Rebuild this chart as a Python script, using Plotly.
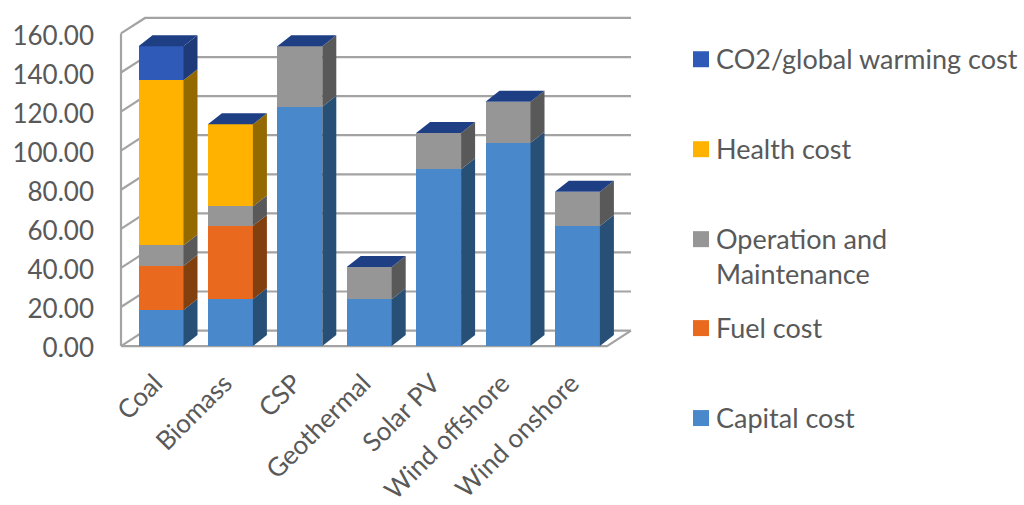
import plotly.graph_objects as go

# Levelised cost by technology, stacked from the bottom up
categories = ["Coal", "Biomass", "CSP", "Geothermal", "Solar PV", "Wind offshore", "Wind onshore"]
capital_cost = [18.5, 24.0, 122.5, 24.0, 90.5, 104.0, 61.5]
fuel_cost = [22.5, 37.5, 0, 0, 0, 0, 0]
operation_maintenance = [10.5, 10.0, 31.0, 16.5, 18.5, 21.0, 17.5]
health_cost = [84.5, 42.0, 0, 0, 0, 0, 0]
co2_cost = [17.5, 0, 0, 0, 0, 0, 0]

series_names = ["Capital cost", "Fuel cost", "Operation and<br>Maintenance", "Health cost", "CO2/global warming cost"]
series_values = [capital_cost, fuel_cost, operation_maintenance, health_cost, co2_cost]
front_colors = ["#4a88cc", "#e96a1f", "#969696", "#ffb300", "#2f5ab8"]
side_colors = ["#285077", "#82400f", "#595959", "#936900", "#1f3a78"]
top_color = "#1f3f85"
grid_color = "#a3a3a3"
text_color = "#595959"
font_family = "Lato, sans-serif"

y_ticks = [0, 20, 40, 60, 80, 100, 120, 140, 160]

# Plot frame and scales, in pixels
WIDTH, HEIGHT = 1024, 505
PX_PER_CAT = 69.4
PX_PER_UNIT = 1.955
FIRST_BAR_PX = 161
ZERO_PX = 346
PLOT_L, PLOT_R = 112, 640
Y_MIN, Y_MAX = -2, 172
x_range = [(PLOT_L - FIRST_BAR_PX) / PX_PER_CAT, (PLOT_R - FIRST_BAR_PX) / PX_PER_CAT]
m_top = ZERO_PX - Y_MAX * PX_PER_UNIT
m_bottom = HEIGHT - (ZERO_PX - Y_MIN * PX_PER_UNIT)

# Box depth and wall depth, in axis units
BAR_W = 45 / PX_PER_CAT
BAR_DX = 14 / PX_PER_CAT
BAR_DY = 11 / PX_PER_UNIT
WALL_DX = 24 / PX_PER_CAT
WALL_DY = 15.5 / PX_PER_UNIT
FRONT_L = (121 - FIRST_BAR_PX) / PX_PER_CAT
FRONT_R = (607 - FIRST_BAR_PX) / PX_PER_CAT

fig = go.Figure()

# Back wall and floor go on the lower y axis, so the bars cover them
wall_x, wall_y = [], []
for t in y_ticks:
    wall_x += [FRONT_L, FRONT_L + WALL_DX, FRONT_R + WALL_DX, None]
    wall_y += [t, t + WALL_DY, t + WALL_DY, None]
wall_x += [FRONT_L, FRONT_L, None, FRONT_L, FRONT_R, FRONT_R + WALL_DX]
wall_y += [y_ticks[0], y_ticks[-1], None, y_ticks[0], y_ticks[0], y_ticks[0] + WALL_DY]
fig.add_trace(go.Scatter(x=wall_x, y=wall_y, mode="lines", line=dict(color=grid_color, width=2.2),
                         hoverinfo="skip", showlegend=False, yaxis="y"))

positions = list(range(len(categories)))

# Front faces
for name, values, color in zip(series_names, series_values, front_colors):
    fig.add_trace(go.Bar(x=positions, y=values, name=name.replace("<br>", " "), width=BAR_W,
                         marker=dict(color=color, line=dict(width=0)),
                         showlegend=False, yaxis="y2"))

# Right-hand faces, one parallelogram per stack segment
base = [0.0] * len(categories)
for values, color in zip(series_values, side_colors):
    px, py = [], []
    for i, v in enumerate(values):
        if v > 0:
            xr = i + BAR_W / 2
            y0, y1 = base[i], base[i] + v
            px += [xr, xr + BAR_DX, xr + BAR_DX, xr, xr, None]
            py += [y0, y0 + BAR_DY, y1 + BAR_DY, y1, y0, None]
            base[i] = y1
    fig.add_trace(go.Scatter(x=px, y=py, mode="lines", fill="toself", fillcolor=color,
                             line=dict(width=0, color=color), hoverinfo="skip",
                             showlegend=False, yaxis="y2"))

# Top caps
tx, ty = [], []
for i, total in enumerate(base):
    xl, xr = i - BAR_W / 2, i + BAR_W / 2
    tx += [xl, xr, xr + BAR_DX, xl + BAR_DX, xl, None]
    ty += [total, total, total + BAR_DY, total + BAR_DY, total, None]
fig.add_trace(go.Scatter(x=tx, y=ty, mode="lines", fill="toself", fillcolor=top_color,
                         line=dict(width=0, color=top_color), hoverinfo="skip",
                         showlegend=False, yaxis="y2"))

# Legend column, one row per series with the last series first
plot_w = PLOT_R - PLOT_L
plot_h = HEIGHT - m_top - m_bottom
def paper_x(px):
    return (px - PLOT_L) / plot_w
def paper_y(px):
    return 1 - (px - m_top) / plot_h

legend_rows_px = [59, 149, 239, 328, 418]
shapes, annotations = [], []
for row, name, color in zip(legend_rows_px, reversed(series_names), reversed(front_colors)):
    shapes.append(dict(type="rect", xref="paper", yref="paper", line=dict(width=0), fillcolor=color,
                       x0=paper_x(693), x1=paper_x(709), y0=paper_y(row + 8), y1=paper_y(row - 8)))
    annotations.append(dict(text=name, xref="paper", yref="paper", x=paper_x(714), y=paper_y(row - 19),
                            xanchor="left", yanchor="top", align="left", showarrow=False,
                            font=dict(family=font_family, size=27, color=text_color)))

fig.update_layout(
    width=WIDTH, height=HEIGHT, autosize=False,
    margin=dict(l=PLOT_L, r=WIDTH - PLOT_R, t=m_top, b=m_bottom),
    paper_bgcolor="white", plot_bgcolor="white",
    barmode="stack", shapes=shapes, annotations=annotations,
    font=dict(family=font_family, color=text_color),
    xaxis=dict(range=x_range, tickmode="array", tickvals=positions, ticktext=categories,
               tickangle=-45, tickfont=dict(family=font_family, size=26, color=text_color),
               automargin=False,
               showgrid=False, zeroline=False, showline=False, ticks="",
               ticklabelstandoff=12, ticklabelshift=-6),
    yaxis=dict(range=[Y_MIN, Y_MAX], tickmode="array", tickvals=y_ticks,
               ticktext=[f"{t:.2f}" for t in y_ticks],
               tickfont=dict(family=font_family, size=26, color=text_color),
               automargin=False,
               showgrid=False, zeroline=False, showline=False, ticks="",
               ticklabelstandoff=17, ticklabelshift=2),
    yaxis2=dict(range=[Y_MIN, Y_MAX], overlaying="y", visible=False, automargin=False),
)

fig.write_html("out.html")
